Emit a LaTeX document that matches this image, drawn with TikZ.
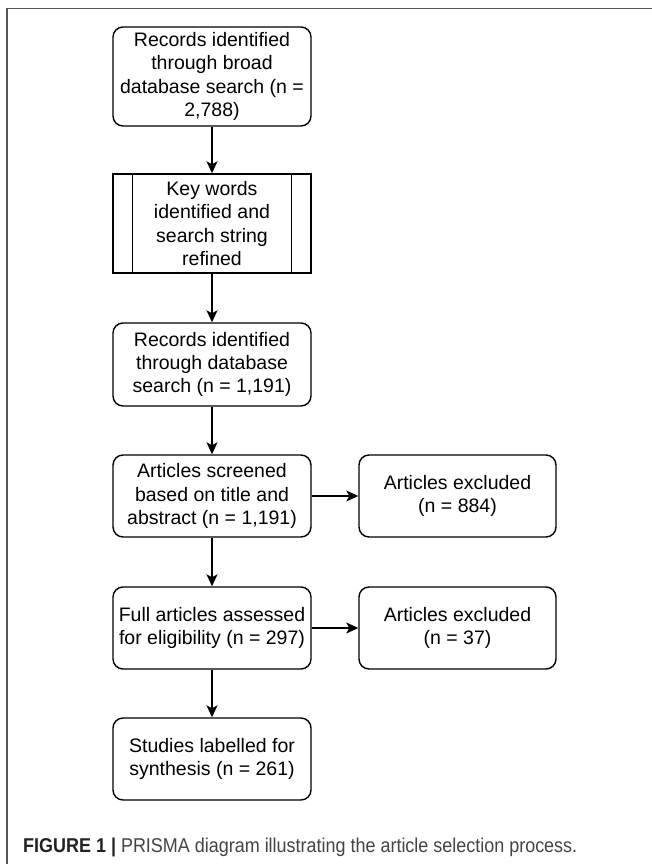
\documentclass[tikz,border=0pt]{standalone}
\usepackage{fontspec}
\setmainfont{Liberation Sans}
\usepackage{graphicx}
\usetikzlibrary{arrows.meta}
\definecolor{framegray}{HTML}{555555}
\definecolor{capdark}{HTML}{222222}
\definecolor{caplight}{HTML}{444444}
\begin{document}
\begin{tikzpicture}[x=1pt,y=-1pt,
  box/.style={draw, line width=1.4pt, rounded corners=10pt, minimum width=198pt,
    align=center, inner sep=0pt, font=\fontsize{19.5}{23.3}\selectfont},
  subbox/.style={box, rounded corners=0pt},
  arr/.style={line width=1.4pt, -{Stealth[length=12pt,width=11pt,inset=3pt]}}
]
\useasboundingbox (0,0) rectangle (652,864);
\fill[white] (0,0) rectangle (652,864);
% frame
\draw[framegray, line width=1.3pt] (7,864) -- (7,8.3) -- (652,8.3);

% main column
\node[box, minimum height=99pt] (b1) at (212,76.5)
  {Records identified\\through broad\\database search (n =\\2,788)};
\node[subbox, minimum height=99pt] (b2) at (212,223.5)
  {Key words\\identified and\\search string\\refined};
\draw[line width=1.4pt] ([xshift=20pt]b2.north west) -- ([xshift=20pt]b2.south west);
\draw[line width=1.4pt] ([xshift=-20pt]b2.north east) -- ([xshift=-20pt]b2.south east);
\node[box, minimum height=83pt] (b3) at (212,364.5)
  {Records identified\\through database\\search (n = 1,191)};
\node[box, minimum height=82pt] (b4) at (212,496)
  {Articles screened\\based on title and\\abstract (n = 1,191)};
\node[box, minimum height=82pt] (b5) at (212,628)
  {Full articles assessed\\for eligibility (n = 297)};
\node[box, minimum height=82pt] (b6) at (212,759)
  {Studies labelled for\\synthesis (n = 261)};

% exclusion column
\node[box, minimum height=82pt, minimum width=197pt] (e1) at (457.5,496)
  {Articles excluded\\(n = 884)};
\node[box, minimum height=82pt, minimum width=197pt] (e2) at (457.5,628)
  {Articles excluded\\(n = 37)};

% connectors
\draw[arr] (b1) -- (b2);
\draw[arr] (b2) -- (b3);
\draw[arr] (b3) -- (b4);
\draw[arr] (b4) -- (b5);
\draw[arr] (b5) -- (b6);
\draw[arr] (b4) -- (e1);
\draw[arr] (b5) -- (e2);

% caption
\node[anchor=base west, inner sep=0pt] (cap) at (23,852)
  {\resizebox{554pt}{\height}{\fontsize{20}{24}\selectfont\textcolor{capdark}{\textbf{FIGURE 1 |}} \textcolor{caplight}{PRISMA diagram illustrating the article selection process.}}};
\end{tikzpicture}
\end{document}
